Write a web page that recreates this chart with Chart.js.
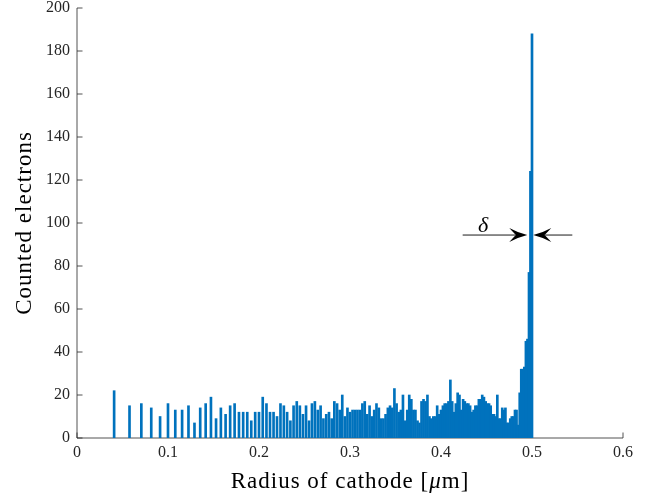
<!DOCTYPE html>
<html>
<head>
<meta charset="utf-8">
<script src="https://cdn.jsdelivr.net/npm/chart.js@4.4.1/dist/chart.umd.min.js"></script>
<style>
  html, body { margin: 0; padding: 0; background: #ffffff; }
  #wrap { width: 665px; height: 497px; }
</style>
</head>
<body>
<div id="wrap"><canvas id="c" width="665" height="497"></canvas></div>
<script>
// Emission radius of each histogram bin [um]
const radius = [
  0.0408, 0.0577, 0.0707, 0.0816, 0.0913, 0.1000, 0.1080, 0.1155, 0.1225, 0.1291,
  0.1354, 0.1414, 0.1472, 0.1528, 0.1581, 0.1633, 0.1683, 0.1732, 0.1780, 0.1826,
  0.1871, 0.1915, 0.1958, 0.2000, 0.2041, 0.2082, 0.2121, 0.2160, 0.2198, 0.2236,
  0.2273, 0.2309, 0.2345, 0.2380, 0.2415, 0.2449, 0.2483, 0.2517, 0.2550, 0.2582,
  0.2614, 0.2646, 0.2677, 0.2708, 0.2739, 0.2769, 0.2799, 0.2828, 0.2858, 0.2887,
  0.2915, 0.2944, 0.2972, 0.3000, 0.3028, 0.3055, 0.3082, 0.3109, 0.3136, 0.3162,
  0.3189, 0.3215, 0.3240, 0.3266, 0.3291, 0.3317, 0.3342, 0.3367, 0.3391, 0.3416,
  0.3440, 0.3464, 0.3488, 0.3512, 0.3536, 0.3559, 0.3582, 0.3606, 0.3629, 0.3651,
  0.3674, 0.3697, 0.3719, 0.3742, 0.3764, 0.3786, 0.3808, 0.3830, 0.3851, 0.3873,
  0.3894, 0.3916, 0.3937, 0.3958, 0.3979, 0.4000, 0.4021, 0.4041, 0.4062, 0.4082,
  0.4103, 0.4123, 0.4143, 0.4163, 0.4183, 0.4203, 0.4223, 0.4243, 0.4262, 0.4282,
  0.4301, 0.4320, 0.4340, 0.4359, 0.4378, 0.4397, 0.4416, 0.4435, 0.4453, 0.4472,
  0.4491, 0.4509, 0.4528, 0.4546, 0.4564, 0.4583, 0.4601, 0.4619, 0.4637, 0.4655,
  0.4673, 0.4690, 0.4708, 0.4726, 0.4743, 0.4761, 0.4778, 0.4796, 0.4813, 0.4830,
  0.4848, 0.4865, 0.4882, 0.4899, 0.4916, 0.4933, 0.4950, 0.4967, 0.4983, 0.5000
];

// Number of electrons counted in each bin
const counts = [
  22, 15, 16, 14, 10, 16, 13, 13, 15, 7,
  14, 16, 19, 9, 14, 11, 15, 16, 12, 12,
  12, 8, 12, 12, 19, 16, 12, 12, 10, 16,
  15, 12, 8, 15, 17, 15, 11, 15, 8, 16,
  17, 13, 15, 9, 11, 12, 9, 17, 16, 13,
  20, 10, 14, 12, 13, 13, 13, 13, 16, 17,
  11, 15, 10, 13, 16, 14, 9, 9, 11, 14,
  15, 14, 23, 16, 12, 13, 20, 8, 13, 20,
  18, 13, 13, 8, 7, 17, 18, 17, 20, 10,
  9, 10, 10, 15, 11, 13, 15, 16, 16, 17,
  27, 17, 12, 16, 21, 20, 13, 18, 17, 16,
  16, 15, 12, 13, 15, 15, 18, 18, 20, 19,
  17, 16, 16, 15, 11, 11, 10, 20, 9, 9,
  14, 13, 14, 7, 7, 9, 10, 10, 13, 13,
  6, 21, 32, 32, 33, 45, 46, 77, 124, 188
];

const xTicks = [0, 0.1, 0.2, 0.3, 0.4, 0.5, 0.6];
const xTickLabels = ['0', '0.1', '0.2', '0.3', '0.4', '0.5', '0.6'];
const yTicks = [0, 20, 40, 60, 80, 100, 120, 140, 160, 180, 200];
const yTickLabels = ['0', '20', '40', '60', '80', '100', '120', '140', '160', '180', '200'];

// Sheath-width marker: two arrows pointing at the edge peak, and its label
const arrowLevel = 94.4;
const leftArrow = [0.4238, 0.4948];   // tail, tip
const rightArrow = [0.5443, 0.5014];  // tail, tip
const deltaAt = [0.4462, 98.6];

const SERIF = '"Liberation Serif", "Times New Roman", serif';
const BAR_BLUE = '#0072BD';
const AXIS_GREY = '#262626';

function drawArrow(ctx, xs, ys, xt, yt) {
  const L = 18, W = 14, notch = 0.62;
  const dir = Math.sign(xt - xs);
  ctx.strokeStyle = '#1a1a1a';
  ctx.lineWidth = 1;
  ctx.beginPath();
  ctx.moveTo(xs, ys);
  ctx.lineTo(xt - dir * L * notch, yt);
  ctx.stroke();
  ctx.fillStyle = '#000000';
  ctx.beginPath();
  ctx.moveTo(xt, yt);
  ctx.quadraticCurveTo(xt - dir * L * 0.55, yt - W * 0.18, xt - dir * L, yt - W / 2);
  ctx.quadraticCurveTo(xt - dir * L * 0.7, yt - W * 0.08, xt - dir * L * notch, yt);
  ctx.quadraticCurveTo(xt - dir * L * 0.7, yt + W * 0.08, xt - dir * L, yt + W / 2);
  ctx.quadraticCurveTo(xt - dir * L * 0.55, yt + W * 0.18, xt, yt);
  ctx.closePath();
  ctx.fill();
}

const decorations = {
  id: 'decorations',
  beforeDatasetsDraw(chart) {
    const { ctx, chartArea: a, scales: { x, y } } = chart;
    ctx.save();
    ctx.strokeStyle = AXIS_GREY;
    ctx.lineWidth = 0.8;
    // axis lines (box off: only left and bottom)
    ctx.beginPath();
    ctx.moveTo(a.left, a.top);
    ctx.lineTo(a.left, a.bottom);
    ctx.lineTo(a.right, a.bottom);
    ctx.stroke();
    // inward tick marks
    const tl = 5.5;
    ctx.beginPath();
    yTicks.forEach(v => {
      const py = y.getPixelForValue(v);
      ctx.moveTo(a.left, py);
      ctx.lineTo(a.left + tl, py);
    });
    xTicks.forEach(v => {
      const px = x.getPixelForValue(v);
      ctx.moveTo(px, a.bottom);
      ctx.lineTo(px, a.bottom - tl);
    });
    ctx.stroke();
    ctx.restore();
  },
  afterDraw(chart) {
    const { ctx, chartArea: a, scales: { x, y } } = chart;
    ctx.save();
    ctx.fillStyle = '#000000';
    ctx.letterSpacing = '1px';

    // x-axis title with italic mu
    const parts = [
      ['Radius of cathode [', 'normal'],
      ['\u03bc', 'italic'],
      ['m]', 'normal']
    ];
    let total = 0;
    parts.forEach(p => {
      ctx.font = `${p[1]} 23px ${SERIF}`;
      total += ctx.measureText(p[0]).width;
    });
    let cx = (a.left + a.right) / 2 - total / 2;
    ctx.textBaseline = 'alphabetic';
    ctx.textAlign = 'left';
    parts.forEach(p => {
      ctx.font = `${p[1]} 23px ${SERIF}`;
      ctx.fillText(p[0], cx, 488);
      cx += ctx.measureText(p[0]).width;
    });

    // y-axis title
    ctx.save();
    ctx.translate(31, (a.top + a.bottom) / 2);
    ctx.rotate(-Math.PI / 2);
    ctx.font = `normal 23px ${SERIF}`;
    ctx.textAlign = 'center';
    ctx.fillText('Counted electrons', 0, 0);
    ctx.restore();

    ctx.letterSpacing = '0px';
    // arrows marking the peak width
    const ay = y.getPixelForValue(arrowLevel);
    drawArrow(ctx, x.getPixelForValue(leftArrow[0]), ay, x.getPixelForValue(leftArrow[1]), ay);
    drawArrow(ctx, x.getPixelForValue(rightArrow[0]), ay, x.getPixelForValue(rightArrow[1]), ay);

    ctx.font = `italic 22px ${SERIF}`;
    ctx.textAlign = 'center';
    ctx.textBaseline = 'middle';
    ctx.fillText('\u03b4', x.getPixelForValue(deltaAt[0]), y.getPixelForValue(deltaAt[1]));
    ctx.restore();
  }
};

new Chart(document.getElementById('c'), {
  type: 'bar',
  data: {
    datasets: [{
      data: radius.map((r, i) => ({ x: r, y: counts[i] })),
      backgroundColor: BAR_BLUE,
      borderWidth: 0,
      barThickness: 2.0,
      grouped: false
    }]
  },
  options: {
    responsive: false,
    devicePixelRatio: 1,
    animation: false,
    events: [],
    layout: { padding: { left: 0, top: 8, right: 42, bottom: 0 } },
    plugins: { legend: { display: false }, tooltip: { enabled: false } },
    scales: {
      x: {
        type: 'linear',
        offset: false,
        min: 0,
        max: 0.6,
        grid: { display: false, drawTicks: false, offset: false },
        border: { display: false },
        afterBuildTicks: s => { s.ticks = xTicks.map(v => ({ value: v })); },
        afterFit: s => { s.height = 59; s.paddingLeft = 0; s.paddingRight = 0; },
        ticks: {
          autoSkip: false,
          maxRotation: 0,
          padding: 7,
          color: AXIS_GREY,
          font: { family: SERIF, size: 16, lineHeight: 1 },
          callback: (v, i) => xTickLabels[i]
        }
      },
      y: {
        min: 0,
        max: 200,
        grid: { display: false, drawTicks: false },
        border: { display: false },
        afterBuildTicks: s => { s.ticks = yTicks.map(v => ({ value: v })); },
        afterFit: s => { s.width = 77; s.paddingTop = 0; s.paddingBottom = 0; },
        ticks: {
          autoSkip: false,
          padding: 7,
          color: AXIS_GREY,
          font: { family: SERIF, size: 16, lineHeight: 1 },
          callback: (v, i) => yTickLabels[i]
        }
      }
    }
  },
  plugins: [decorations]
});
</script>
</body>
</html>
